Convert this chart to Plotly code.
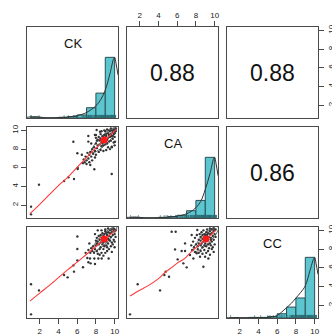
import plotly.graph_objects as go
import numpy as np

W, H = 332, 334
RNG = [0.64, 10.36]
TICKS = [2, 4, 6, 8, 10]

labels = ["CK", "CA", "CC"]
corr_text = {(0, 1): "0.88", (0, 2): "0.88", (1, 2): "0.86"}

# histogram (bins 1-2 ... 9-10), heights relative to tallest bar
bin_left = [1, 2, 3, 4, 5, 6, 7, 8, 9]
hist_ck = [0.015, 0, 0, 0.012, 0.025, 0.05, 0.17, 0.41, 1.0]
hist_ca = [0.01, 0, 0, 0.012, 0.025, 0.045, 0.12, 0.29, 1.0]
hist_cc = [0.006, 0, 0.01, 0.01, 0.025, 0.07, 0.18, 0.33, 1.0]

# density curves (scaled to max 1)
dens_x = [0.64, 1.0, 1.5, 2.0, 2.5, 3.0, 4.0, 5.0, 5.5, 6.0, 6.5, 7.0, 7.5, 8.0, 8.5, 9.0, 9.5, 9.9, 10.0, 10.15, 10.36]
dens_ck = [0.012, 0.018, 0.02, 0.015, 0.005, 0.002, 0.006, 0.015, 0.025, 0.04, 0.06, 0.09, 0.14, 0.2, 0.3, 0.46, 0.73, 0.98, 1.0, 0.9, 0.71]
dens_ca = [0.01, 0.012, 0.015, 0.01, 0.003, 0.002, 0.005, 0.012, 0.02, 0.03, 0.045, 0.07, 0.11, 0.17, 0.27, 0.47, 0.73, 0.98, 1.0, 0.9, 0.7]
dens_cc = [0.004, 0.005, 0.004, 0.003, 0.003, 0.004, 0.006, 0.01, 0.02, 0.04, 0.1, 0.17, 0.24, 0.33, 0.42, 0.53, 0.78, 0.98, 1.0, 0.9, 0.72]

# scatter CK (x) vs CA (y)
ck_ca = [(1.07, 1.03), (1.07, 1.85), (1.92, 4.2), (4.6, 4.6), (5.06, 4.98), (5.66, 4.8), (6.05, 5.87), (6.05, 6.0),
         (5.59, 8.79), (6.02, 7.55), (7.83, 5.84), (9.69, 5.34), (7.19, 9.4), (7.19, 8.8), (8.08, 10.04), (8.44, 9.86),
         (10.04, 8.79), (9.69, 8.26),
         (7.7, 7.5), (7.6, 8.0), (7.5, 7.2), (7.4, 7.7), (7.3, 7.4), (7.2, 7.0), (7.1, 7.6), (7.0, 6.8), (6.9, 7.2),
         (6.8, 6.6), (7.0, 6.4), (6.7, 6.9), (6.6, 6.5), (7.3, 6.6), (7.6, 6.8), (7.9, 7.1), (6.5, 7.4), (8.0, 9.5),
         (7.5, 8.6), (7.4, 6.3),
         (8.4, 8.9), (8.5, 9.1), (8.6, 8.7), (8.7, 9.0), (8.8, 9.3), (8.9, 8.8), (9.0, 9.1), (9.1, 9.4), (9.2, 9.0),
         (9.3, 9.2), (9.4, 9.5), (9.5, 9.3), (9.6, 9.6), (9.7, 9.4), (9.8, 9.8), (9.9, 9.6), (10.0, 10.0), (10.0, 9.7),
         (9.9, 10.1), (9.7, 10.0), (9.5, 9.9), (9.3, 9.7), (9.1, 9.6), (8.9, 9.5), (8.7, 9.4), (8.5, 9.6), (8.3, 9.3),
         (8.2, 9.0), (8.6, 9.9), (8.9, 10.0), (9.2, 10.1), (9.6, 10.2), (10.0, 9.3), (9.8, 9.1), (9.6, 8.9), (9.4, 8.8),
         (9.2, 8.6), (9.0, 8.5), (8.8, 8.4), (8.6, 8.3), (8.4, 8.5), (8.2, 8.4), (8.0, 8.6), (8.1, 8.9), (8.0, 9.2),
         (7.9, 9.5), (9.9, 8.7), (10.0, 8.4), (9.7, 8.2), (9.5, 8.0), (9.3, 8.2), (9.1, 7.9), (8.8, 7.8), (8.5, 7.9),
         (8.3, 7.7), (8.1, 8.1), (7.8, 8.2), (7.9, 7.8), (8.0, 7.4), (9.0, 9.9), (9.4, 10.0), (8.7, 8.6), (9.8, 9.4),
         (10.1, 9.9), (10.1, 10.2)]

# scatter CK (x) vs CC (y)
ck_cc = [(1.07, 1.03), (1.07, 4.24), (1.92, 3.59), (4.6, 5.23), (4.98, 4.98), (5.66, 5.59), (5.59, 6.26), (6.02, 6.8),
         (6.02, 8.01), (6.02, 9.35), (6.62, 6.06), (7.44, 6.48), (7.08, 7.05), (7.37, 7.0), (7.83, 7.0), (8.26, 7.0),
         (8.62, 7.0), (9.36, 7.0), (7.9, 6.4), (7.2, 6.6),
         (6.9, 7.6), (7.2, 7.9), (7.4, 7.6), (7.5, 8.1), (7.6, 7.8), (7.7, 8.3), (7.8, 7.6), (7.9, 8.0), (8.0, 8.4),
         (8.1, 7.8), (8.2, 7.5), (8.4, 7.4), (8.6, 7.6), (8.8, 7.3), (9.0, 7.6), (9.2, 7.8), (9.4, 8.0), (9.7, 7.7),
         (10.0, 8.2), (7.3, 8.6), (7.9, 9.6), (8.2, 10.0),
         (8.4, 9.0), (8.5, 8.7), (8.6, 9.2), (8.7, 8.9), (8.8, 9.4), (8.9, 9.0), (9.0, 9.2), (9.1, 8.8), (9.2, 9.5),
         (9.3, 9.1), (9.4, 9.4), (9.5, 9.7), (9.6, 9.3), (9.7, 9.8), (9.8, 9.5), (9.9, 9.9), (10.0, 10.1), (10.0, 9.6),
         (9.9, 10.2), (9.7, 10.1), (9.5, 10.0), (9.3, 9.8), (9.1, 9.7), (8.9, 9.6), (8.7, 9.7), (8.5, 9.5), (8.3, 9.4),
         (8.2, 8.8), (8.6, 10.0), (9.0, 10.1), (9.3, 10.2), (10.1, 9.3), (9.9, 9.0), (9.7, 8.7), (9.5, 8.9), (9.3, 8.6),
         (9.1, 8.4), (8.9, 8.3), (8.7, 8.5), (8.5, 8.2), (8.3, 8.5), (8.1, 8.6), (8.0, 8.9), (8.1, 9.2), (9.8, 8.5),
         (10.0, 8.8), (9.6, 8.3), (9.2, 8.2), (8.8, 8.0), (8.4, 8.0), (9.0, 9.9), (9.4, 9.0), (10.1, 10.0), (8.8, 8.7)]

# scatter CA (x) vs CC (y)
ca_cc = [(0.96, 1.03), (1.78, 4.24), (4.17, 3.59), (4.63, 5.23), (4.77, 5.59), (5.13, 5.05), (5.41, 9.86), (5.84, 9.86),
         (5.77, 7.97), (6.05, 6.9), (6.48, 7.8), (6.84, 7.8), (6.66, 6.48), (7.02, 6.05), (6.84, 8.61), (7.55, 9.5),
         (8.15, 10.04), (8.8, 6.12), (8.44, 7.19), (8.98, 7.19), (9.33, 7.0), (7.73, 7.0), (7.37, 7.37), (8.08, 7.55),
         (7.6, 7.9), (7.8, 8.2), (7.9, 7.7), (8.0, 8.5), (8.2, 8.0), (8.3, 7.6), (8.5, 7.8), (8.7, 7.5), (8.9, 7.9),
         (9.1, 7.6), (9.3, 7.8), (9.5, 7.4), (9.7, 8.0), (9.9, 7.7), (7.5, 8.4), (7.7, 8.8), (7.9, 9.2), (8.1, 9.5),
         (8.5, 8.9), (8.6, 8.6), (8.7, 9.1), (8.8, 8.8), (8.9, 9.3), (9.0, 8.9), (9.1, 9.2), (9.2, 9.5), (9.3, 9.0),
         (9.4, 9.3), (9.5, 9.6), (9.6, 9.2), (9.7, 9.7), (9.8, 9.4), (9.9, 9.9), (10.0, 10.0), (10.0, 9.6), (9.9, 10.2),
         (9.7, 10.1), (9.5, 9.9), (9.3, 9.7), (9.1, 9.8), (8.9, 9.6), (8.7, 9.5), (8.5, 9.3), (8.4, 9.6), (8.3, 9.0),
         (8.8, 10.0), (9.2, 10.1), (9.5, 10.2), (10.1, 9.3), (9.9, 9.0), (9.7, 8.8), (9.5, 8.6), (9.3, 8.5), (9.1, 8.3),
         (8.9, 8.4), (8.7, 8.2), (8.5, 8.4), (8.3, 8.6), (8.2, 8.3), (10.0, 8.5), (9.8, 8.2), (9.6, 8.4), (9.4, 8.1),
         (9.0, 8.6), (9.6, 9.0), (10.1, 10.1), (8.6, 9.8), (9.0, 9.5)]

# loess smooth lines
loess_ck_ca = [(0.96, 1.1), (2, 2.1), (3, 3.1), (4, 4.1), (5, 5.0), (6, 6.05), (7, 7.1), (8, 8.1), (9, 9.0), (10.2, 10.1)]
loess_ck_cc = [(0.96, 2.45), (2, 3.3), (3, 4.1), (4, 4.95), (5, 5.8), (6, 6.6), (7, 7.45), (8, 8.28), (9, 9.1), (10.1, 10.05)]
loess_ca_cc = [(0.96, 2.99), (2, 3.6), (3, 4.15), (4, 4.85), (4.7, 5.5), (5.5, 6.1), (6.0, 6.5), (6.8, 7.0),
               (7.5, 7.7), (8.3, 8.4), (9.1, 9.05), (10.1, 10.0)]

# means, sds, correlations for the correlation ellipses
ell_ck_ca = dict(mx=8.87, my=8.97, sx=1.35, sy=1.35, r=0.88)
ell_ck_cc = dict(mx=8.90, my=9.08, sx=1.35, sy=1.35, r=0.88)
ell_ca_cc = dict(mx=9.08, my=9.08, sx=1.35, sy=1.35, r=0.86)

# ---------------- layout helpers ----------------
PANEL = 91
LEFTS = [27, 127, 227]
TOPS = [27, 127, 227]
BOX = "#4a4a4a"
FONT = "Liberation Sans, Arial, sans-serif"


def k_of(r, c):
    return r * 3 + c + 1


fig = go.Figure()
layout = dict(width=W, height=H, margin=dict(l=0, r=0, t=0, b=0), showlegend=False,
              plot_bgcolor="white", paper_bgcolor="white", template="none",
              font=dict(family=FONT, size=8, color="#222"))


def base_axis(rng, domain, anchor):
    return dict(range=rng, domain=domain, anchor=anchor, showgrid=False, zeroline=False,
                showline=True, mirror=True, linecolor=BOX, linewidth=1, ticks="",
                showticklabels=False, automargin=False, fixedrange=True)


tick_style = dict(ticks="outside", ticklen=5, tickwidth=1, tickcolor=BOX, tickvals=TICKS,
                  showticklabels=True, tickfont=dict(family=FONT, size=8, color="#222"))

for r in range(3):
    for c in range(3):
        k = k_of(r, c)
        xd = [LEFTS[c] / W, (LEFTS[c] + PANEL) / W]
        yd = [1 - (TOPS[r] + PANEL) / H, 1 - TOPS[r] / H]
        xa = base_axis(RNG, xd, f"y{k}")
        ya = base_axis(RNG if r != c else [0, 1.5], yd, f"x{k}")
        if (r, c) == (0, 1):
            xa.update(tick_style, side="top")
        if (r, c) == (1, 0):
            ya.update(tick_style, side="left", tickangle=-90)
        if (r, c) in [(2, 0), (2, 2)]:
            xa.update(tick_style, side="bottom")
        if (r, c) == (0, 2):
            ya.update(tick_style, side="right", tickangle=-90)
        layout[f"xaxis{k}"] = xa
        layout[f"yaxis{k}"] = ya
        # placeholder so every panel is drawn
        fig.add_trace(go.Scatter(x=[None], y=[None], mode="markers", xaxis=f"x{k}", yaxis=f"y{k}",
                                 hoverinfo="skip"))

# extra right axis for bottom-right diagonal panel (value scale)
layout["yaxis10"] = dict(range=RNG, overlaying="y9", side="right", anchor="x9", showgrid=False,
                         zeroline=False, showline=False, automargin=False, tickangle=-90, **tick_style)
fig.add_trace(go.Scatter(x=[None], y=[None], mode="markers", xaxis="x9", yaxis="y10", hoverinfo="skip"))

# ---------------- diagonal: histograms ----------------
diag = [(hist_ck, dens_ck, [p[0] for p in ck_ca]),
        (hist_ca, dens_ca, [p[1] for p in ck_ca]),
        (hist_cc, dens_cc, [p[1] for p in ck_cc])]
for i, (hv, dv, rug) in enumerate(diag):
    k = k_of(i, i)
    ax, ay = f"x{k}", f"y{k}"
    fig.add_trace(go.Bar(x=[b + 0.5 for b in bin_left], y=hv, width=1, xaxis=ax, yaxis=ay,
                         marker=dict(color="#5cc6d0", line=dict(color="#2c4f54", width=1)),
                         hoverinfo="skip"))
    rx, ry = [], []
    for v in rug:
        rx += [v, v, None]
        ry += [0, 0.05, None]
    fig.add_trace(go.Scatter(x=rx, y=ry, mode="lines", line=dict(color="#2a6a70", width=0.6),
                             xaxis=ax, yaxis=ay, hoverinfo="skip"))
    fig.add_trace(go.Scatter(x=dens_x, y=dv, mode="lines", line=dict(color="#333", width=1),
                             line_shape="spline", xaxis=ax, yaxis=ay, hoverinfo="skip"))
    fig.add_annotation(x=5.5, y=1.22, xref=ax, yref=ay, text=labels[i], showarrow=False,
                       font=dict(family=FONT, size=13, color="#111"))

# ---------------- lower: scatter panels ----------------
lower = [((1, 0), ck_ca, loess_ck_ca, ell_ck_ca),
         ((2, 0), ck_cc, loess_ck_cc, ell_ck_cc),
         ((2, 1), ca_cc, loess_ca_cc, ell_ca_cc)]
for (r, c), pts, lo, el in lower:
    k = k_of(r, c)
    ax, ay = f"x{k}", f"y{k}"
    fig.add_trace(go.Scatter(x=[p[0] for p in pts], y=[p[1] for p in pts], mode="markers",
                             marker=dict(size=2.4, color="#333"), xaxis=ax, yaxis=ay, hoverinfo="skip"))
    # correlation ellipse (1 sd)
    a = np.linspace(0, 2 * np.pi, 52)
    th = 1 / np.sqrt(2)
    ex = (np.cos(a) * np.sqrt(1 + el["r"]) * th - np.sin(a) * np.sqrt(1 - el["r"]) * th) * el["sx"] + el["mx"]
    ey = (np.cos(a) * np.sqrt(1 + el["r"]) * th + np.sin(a) * np.sqrt(1 - el["r"]) * th) * el["sy"] + el["my"]
    fig.add_trace(go.Scatter(x=ex, y=ey, mode="lines", line=dict(color="#444", width=0.8),
                             xaxis=ax, yaxis=ay, hoverinfo="skip"))
    fig.add_trace(go.Scatter(x=[p[0] for p in lo], y=[p[1] for p in lo], mode="lines",
                             line=dict(color="#ff3b3b", width=1.1), line_shape="spline",
                             xaxis=ax, yaxis=ay, hoverinfo="skip"))
    fig.add_trace(go.Scatter(x=[el["mx"]], y=[el["my"]], mode="markers",
                             marker=dict(size=7, color="#ff1a1a"), xaxis=ax, yaxis=ay, hoverinfo="skip"))

# ---------------- upper: correlation values ----------------
for (r, c), txt in corr_text.items():
    k = k_of(r, c)
    fig.add_annotation(x=5.5, y=5.5, xref=f"x{k}", yref=f"y{k}", text=txt, showarrow=False,
                       font=dict(family=FONT, size=23, color="#111"))

fig.update_layout(**layout)
fig.write_html("out.html")
